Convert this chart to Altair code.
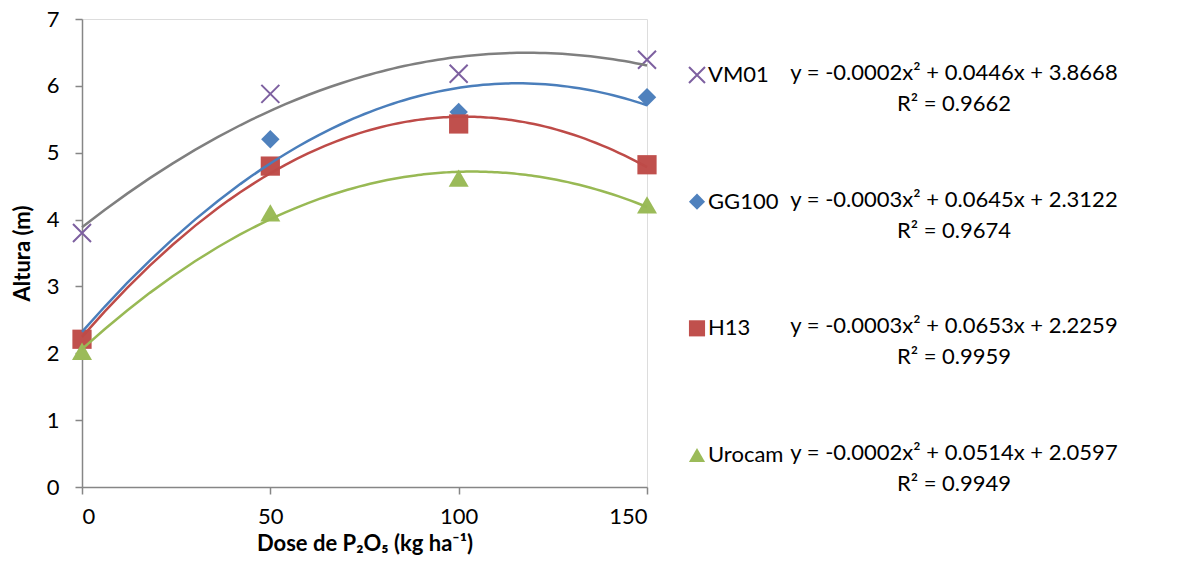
import altair as alt
import pandas as pd

doses = [0, 50, 100, 150]
series = ["VM01", "GG100", "H13", "Urocam"]
vm01 = [3.80, 5.88, 6.18, 6.39]
gg100 = [2.20, 5.20, 5.61, 5.83]
h13 = [2.21, 4.80, 5.43, 4.82]
urocam = [2.03, 4.10, 4.62, 4.22]
equations = [
    "y = -0.0002x² + 0.0446x + 3.8668",
    "y = -0.0003x² + 0.0645x + 2.3122",
    "y = -0.0003x² + 0.0653x + 2.2259",
    "y = -0.0002x² + 0.0514x + 2.0597",
]
r_squared = ["R² = 0.9662", "R² = 0.9674", "R² = 0.9959", "R² = 0.9949"]

marker_colors = ["#7D60A0", "#4F81BD", "#C0504D", "#9BBB59"]
line_colors = ["#7F7F7F", "#4A7EBB", "#BE4B48", "#98B954"]
FONT = "Lato"
XPATH = "M-1,-1L1,1M1,-1L-1,1"

values = {"VM01": vm01, "GG100": gg100, "H13": h13, "Urocam": urocam}
rows = []
for s in series:
    for d, v in zip(doses, values[s]):
        rows.append({"series": s, "dose": d, "altura": v})
df = pd.DataFrame(rows)

leg = pd.DataFrame({"series": series, "i": list(range(len(series))),
                    "eq": equations, "r2": r_squared})

axis_common = dict(
    grid=False, tickSize=7, tickColor="#868686", domainColor="#868686",
    tickWidth=1.5, domainWidth=1.5,
    labelFont=FONT, labelFontSize=22, labelColor="black",
    titleFont=FONT, titleFontSize=22, titleFontWeight="bold", titleColor="black",
)

x = alt.X("dose:Q", scale=alt.Scale(domain=[0, 150], nice=False),
          axis=alt.Axis(values=doses, title="Dose de P₂O₅ (kg ha⁻¹)",
                        labelPadding=12, titlePadding=6, **axis_common))
y = alt.Y("altura:Q", scale=alt.Scale(domain=[0, 7], nice=False),
          axis=alt.Axis(values=list(range(8)), title="Altura (m)",
                        labelPadding=16, titlePadding=12, **axis_common))

filled_series = ["GG100", "H13", "Urocam"]
shape_scale = alt.Scale(domain=filled_series, range=["diamond", "square", "triangle-up"])
fill_scale = alt.Scale(domain=filled_series, range=marker_colors[1:])
size_scale = alt.Scale(domain=filled_series, range=[340, 400, 420])

base = alt.Chart(df)

lines = base.transform_regression(
    "dose", "altura", groupby=["series"], method="poly", order=2, extent=[0, 150]
).mark_line(strokeWidth=2.5).encode(
    x=x, y=y,
    stroke=alt.Stroke("series:N", scale=alt.Scale(domain=series, range=line_colors), legend=None),
)

pts = base.transform_filter(alt.datum.series != "VM01").mark_point(
    filled=True, opacity=1
).encode(
    x=x, y=y,
    shape=alt.Shape("series:N", scale=shape_scale, legend=None),
    fill=alt.Fill("series:N", scale=fill_scale, legend=None),
    size=alt.Size("series:N", scale=size_scale, legend=None),
)

crosses = base.transform_filter(alt.datum.series == "VM01").mark_point(
    shape=XPATH, filled=False, stroke=marker_colors[0], strokeWidth=2, size=324, opacity=1
).encode(x=x, y=y)

main = alt.layer(pts, crosses, lines)

ly = alt.Y("i:Q", scale=alt.Scale(domain=[0, 3], range=[56, 436]), axis=None)
lbase = alt.Chart(leg)

leg_filled = lbase.transform_filter(alt.datum.series != "VM01").mark_point(
    filled=True, opacity=1, size=260
).encode(
    x=alt.value(615), y=ly,
    shape=alt.Shape("series:N", scale=shape_scale, legend=None),
    fill=alt.Fill("series:N", scale=fill_scale, legend=None),
)
leg_cross = lbase.transform_filter(alt.datum.series == "VM01").mark_point(
    shape=XPATH, filled=False, stroke=marker_colors[0], strokeWidth=2, size=256, opacity=1
).encode(x=alt.value(615), y=ly)

leg_names = lbase.mark_text(align="left", baseline="middle", font=FONT, fontSize=22,
                            color="black").encode(x=alt.value(626), y=ly, text="series:N")
leg_eq = lbase.mark_text(align="center", baseline="middle", font=FONT, fontSize=22,
                         color="black", dy=-2).encode(x=alt.value(872), y=ly, text="eq:N")
leg_r2 = lbase.mark_text(align="center", baseline="middle", font=FONT, fontSize=22,
                         color="black", dy=29).encode(x=alt.value(872), y=ly, text="r2:N")

legend = alt.layer(leg_filled, leg_cross, leg_names, leg_eq, leg_r2)

chart = alt.layer(main, legend).resolve_scale(y="independent").properties(
    width=565, height=468,
    autosize=alt.AutoSizeParams(type="none"),
    padding={"left": 74, "top": 11, "right": 520, "bottom": 70},
).configure_view(stroke=None).configure(background="white")

chart.save("out.html", embed_options={"renderer": "svg", "actions": False})
